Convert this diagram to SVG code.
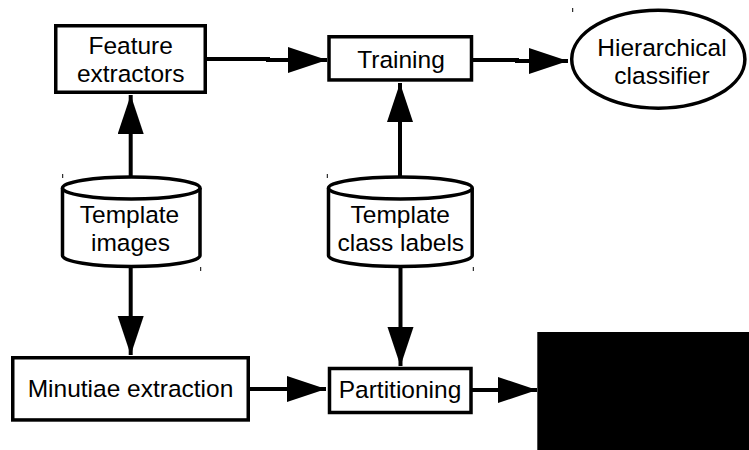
<svg xmlns="http://www.w3.org/2000/svg" width="749" height="450" viewBox="0 0 749 450">
<style>
.box{fill:#fff;stroke:#000;stroke-width:3.5}
.lbl{font-family:"Liberation Sans",Arial,sans-serif;font-size:24.5px;fill:#000;text-anchor:middle}
.con{fill:none;stroke:#000;stroke-width:4}
.tick{stroke:#000;stroke-width:1}
</style>
<defs>
<marker id="ah" markerUnits="userSpaceOnUse" markerWidth="40" markerHeight="27" refX="39" refY="13" orient="auto">
<path d="M0,0 L39,13 L0,26 Z" fill="#000"/>
</marker>
</defs>
<rect width="749" height="450" fill="#fff"/>
<g id="connectors">
<polyline class="con" points="207,59 268,59 268,60 327,60" marker-end="url(#ah)"/>
<polyline class="con" points="473,60 517,60 517,61 568,61" marker-end="url(#ah)"/>
<line class="con" x1="130.7" y1="176" x2="130.7" y2="95" marker-end="url(#ah)"/>
<line class="con" x1="400" y1="176" x2="400" y2="83" marker-end="url(#ah)"/>
<line class="con" x1="130.7" y1="267" x2="130.7" y2="355" marker-end="url(#ah)"/>
<line class="con" x1="400.5" y1="267" x2="400.5" y2="366" marker-end="url(#ah)"/>
<line class="con" x1="250" y1="389" x2="326" y2="389" marker-end="url(#ah)"/>
<line class="con" x1="472" y1="390" x2="537" y2="390" marker-end="url(#ah)"/>
</g>
<g id="feature-extractors">
<rect class="box" x="55.75" y="25.75" width="149.5" height="66.5"/>
<text class="lbl" x="130.7" y="54">Feature</text>
<text class="lbl" x="130.7" y="82">extractors</text>
</g>
<g id="training">
<rect class="box" x="329" y="36.75" width="142.5" height="43.2"/>
<text class="lbl" x="401" y="68">Training</text>
</g>
<g id="hierarchical-classifier">
<ellipse class="box" cx="658.3" cy="59.2" rx="86.6" ry="49"/>
<text class="lbl" x="662" y="55.5">Hierarchical</text>
<text class="lbl" x="662" y="83.5">classifier</text>
<line class="tick" x1="572.7" y1="8" x2="572.7" y2="12"/>
</g>
<g id="template-images">
<path class="box" d="M62.5,188 A68.75,11 0 0,1 200,188 L200,255.5 A68.75,11 0 0,1 62.5,255.5 Z"/>
<path class="box" d="M62.5,188 A68.75,11 0 0,0 200,188"/>
<text class="lbl" x="129.5" y="223.3">Template</text>
<text class="lbl" x="130.5" y="250.7">images</text>
<line class="tick" x1="62.7" y1="174" x2="62.7" y2="178"/>
<line class="tick" x1="200.7" y1="267" x2="200.7" y2="271"/>
</g>
<g id="template-class-labels">
<path class="box" d="M328.5,188 A71.85,11 0 0,1 472.2,188 L472.2,255.5 A71.85,11 0 0,1 328.5,255.5 Z"/>
<path class="box" d="M328.5,188 A71.85,11 0 0,0 472.2,188"/>
<text class="lbl" x="400.3" y="223.3">Template</text>
<text class="lbl" x="400.8" y="250.7">class labels</text>
<line class="tick" x1="327.3" y1="174" x2="327.3" y2="178"/>
<line class="tick" x1="473.3" y1="267" x2="473.3" y2="271"/>
</g>
<g id="minutiae-extraction">
<rect class="box" x="12.75" y="357.75" width="235.5" height="62.2"/>
<text class="lbl" x="130.5" y="396.7">Minutiae extraction</text>
</g>
<g id="partitioning">
<rect class="box" x="329.5" y="368.5" width="141.5" height="44"/>
<text class="lbl" x="400" y="398.3">Partitioning</text>
</g>
<g id="redacted">
<rect x="537.3" y="332" width="211.7" height="118" fill="#000"/>
</g>
</svg>
